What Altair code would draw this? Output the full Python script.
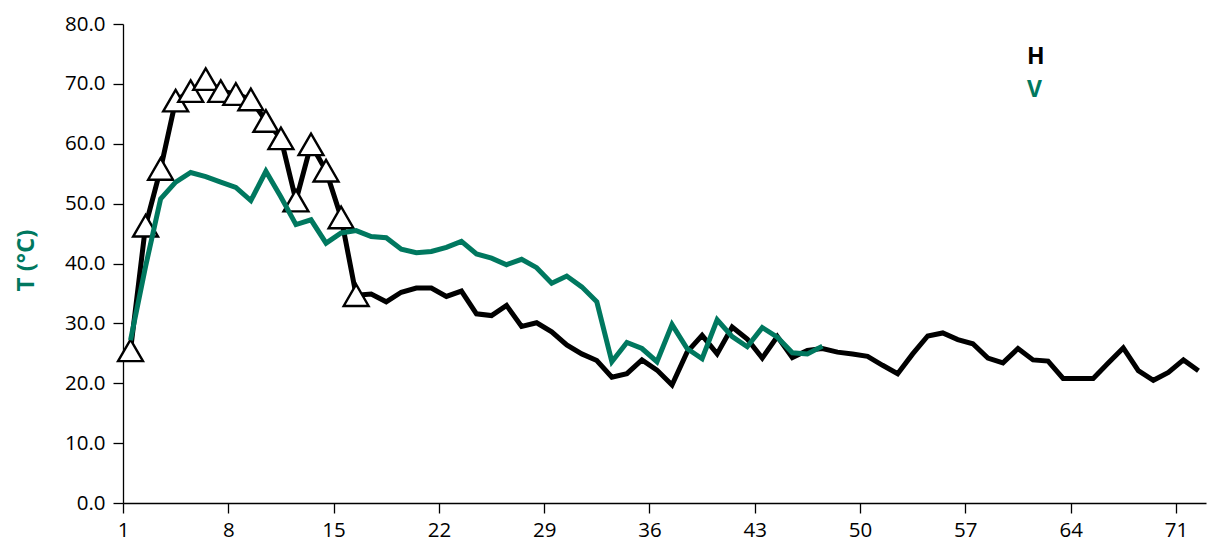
import altair as alt
import pandas as pd

# x positions are category centres (k + 0.5)
black_vals = [25.5, 46.3, 55.8, 67.2, 68.8, 70.8, 68.8, 68.3, 67.4, 63.8,
              60.9, 50.5, 59.9, 55.5, 47.7, 34.7, 34.9, 33.6, 35.2, 35.9,
              35.9, 34.5, 35.4, 31.6, 31.3, 33.0, 29.5, 30.1, 28.6, 26.4,
              24.9, 23.8, 21.0, 21.6, 23.9, 22.2, 19.7, 25.2, 28.0, 24.9,
              29.4, 27.4, 24.2, 27.8, 24.3, 25.5, 25.8, 25.2, 24.9, 24.5,
              23.0, 21.6, 24.9, 27.9, 28.4, 27.3, 26.6, 24.2, 23.4, 25.8,
              23.9, 23.7, 20.8, 20.8, 20.8, 23.4, 25.9, 22.1, 20.5, 21.8,
              23.9, 22.1]
green_vals = [27.2, 39.5, 50.8, 53.6, 55.2, 54.5, 53.6, 52.7, 50.5, 55.4,
              51.1, 46.5, 47.3, 43.4, 45.1, 45.5, 44.5, 44.3, 42.4, 41.8,
              42.0, 42.7, 43.7, 41.6, 40.9, 39.8, 40.7, 39.3, 36.7, 37.9,
              36.1, 33.6, 23.6, 26.8, 25.8, 23.6, 29.8, 25.8, 24.1, 30.6,
              27.8, 26.1, 29.3, 27.7, 25.1, 24.9, 26.2]
n_markers = 16
x_ticks = [1, 8, 15, 22, 29, 36, 43, 50, 57, 64, 71]
y_ticks = [0, 10, 20, 30, 40, 50, 60, 70, 80]
legend_labels = ["H", "V"]
legend_colors = ["#000000", "#00785F"]
y_title = "T (°C)"

GREEN = "#00785F"

black_df = pd.DataFrame({"x": [i + 1.5 for i in range(len(black_vals))], "y": black_vals})
green_df = pd.DataFrame({"x": [i + 1.5 for i in range(len(green_vals))], "y": green_vals})
marker_df = black_df.iloc[:n_markers]

FONT = "Open Sans"

xscale = alt.Scale(domain=[1, 73], nice=False, zero=False)
yscale = alt.Scale(domain=[0, 80], nice=False)

xaxis = alt.Axis(values=x_ticks, grid=False, tickSize=10, labelPadding=7,
                 labelFont=FONT, labelFontSize=20.5, labelColor="#000",
                 domainColor="#000", tickColor="#000", domainWidth=1.3, tickWidth=1.3,
                 title=None, labelFlush=False)
yaxis = alt.Axis(values=y_ticks, format=".1f", grid=False, tickSize=10, labelPadding=8,
                 labelFont=FONT, labelFontSize=20.5, labelColor="#000",
                 domainColor="#000", tickColor="#000", domainWidth=1.3, tickWidth=1.3,
                 title=y_title, titleFont=FONT, titleFontSize=24, titleFontWeight="bold",
                 titleColor=GREEN, titleAngle=-90, titleX=-97, titleY=236,
                 titleAlign="center", titleBaseline="middle")

black_line = alt.Chart(black_df).mark_line(color="#000000", strokeWidth=5,
                                           strokeJoin="miter").encode(
    x=alt.X("x:Q", scale=xscale, axis=xaxis),
    y=alt.Y("y:Q", scale=yscale, axis=yaxis),
)
markers = alt.Chart(marker_df).mark_point(shape="triangle-up", size=620, filled=True,
                                          fill="#ffffff", stroke="#000000",
                                          strokeWidth=2.4, opacity=1).encode(
    x=alt.X("x:Q", scale=xscale),
    y=alt.Y("y:Q", scale=yscale),
)
green_line = alt.Chart(green_df).mark_line(color=GREEN, strokeWidth=5,
                                           strokeJoin="miter").encode(
    x=alt.X("x:Q", scale=xscale),
    y=alt.Y("y:Q", scale=yscale),
)

legend_layers = []
for i, (lab, col) in enumerate(zip(legend_labels, legend_colors)):
    legend_layers.append(
        alt.Chart(pd.DataFrame({"label": [lab]})).mark_text(
            font=FONT, fontSize=23, fontWeight="bold", align="left",
            baseline="middle", color=col
        ).encode(x=alt.value(904), y=alt.value(33 + 33 * i), text="label:N")
    )

chart = alt.layer(black_line, markers, green_line, *legend_layers).properties(
    width=1083, height=479,
    autosize=alt.AutoSizeParams(type="none"),
    padding={"left": 115, "top": 16, "right": 1, "bottom": 45},
).configure_view(stroke=None)

chart.save("out.html", embed_options={"renderer": "svg", "actions": False})
